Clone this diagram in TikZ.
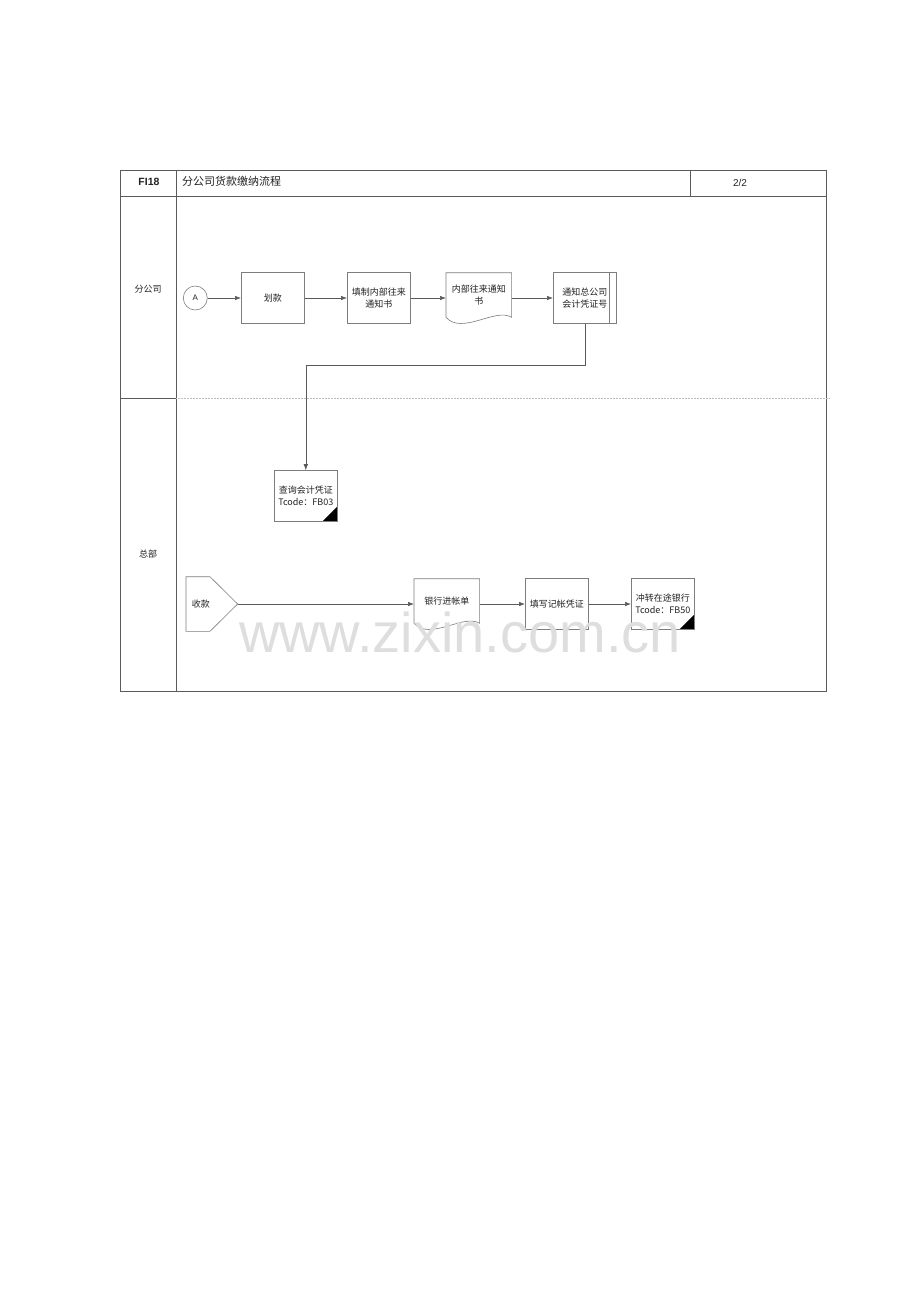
\documentclass[tikz,border=0pt]{standalone}
\usepackage{fontspec}
\setmainfont{Liberation Sans}
\newfontfamily\cjk{Noto Sans CJK SC}
\usepackage{tikz}
\usetikzlibrary{calc}
\usetikzlibrary{arrows.meta}
\definecolor{framegray}{RGB}{90,90,90}
\definecolor{boxgray}{RGB}{125,125,125}
\definecolor{textgray}{RGB}{35,35,35}
\definecolor{lanegray}{RGB}{190,190,190}
\definecolor{markgray}{RGB}{222,222,222}
\newcommand{\widthbox}{63pt}
\newcommand{\heightbox}{51pt}
\newcommand{\widthdoc}{65pt}
\newcommand{\heightdoc}{44pt}
\tikzset{
    common/.style={anchor=west, draw=boxgray, line width=0.6pt, rectangle, text=textgray,
        font=\cjk\fontsize{9}{12}\selectfont, align=center, inner sep=2pt},
    stepbox/.style={common, minimum width=\widthbox, minimum height=\heightbox},
    docbox/.style={stepbox, draw=none, minimum width=\widthdoc, minimum height=\heightdoc, yshift=3pt},
    predef/.style={stepbox,
        path picture={
            \draw[boxgray, line width=0.6pt]
                ([xshift=-7pt]path picture bounding box.north east) -- ([xshift=-7pt]path picture bounding box.south east);
        }
    },
    sapbox/.style={stepbox,
        path picture={
            \fill[black] (path picture bounding box.south east) -- ++(-15pt,0pt) -- ++(15pt,15pt) -- cycle;
        }
    },
    connector/.style={common, circle, minimum size=24pt, inner sep=0pt, font=\fontsize{8}{9}\selectfont},
    offpage/.style={common, draw=none, minimum width=51pt, minimum height=54pt, text width=40pt, align=left},
    flow/.style={->, draw=framegray, line width=0.6pt},
    lanelabel/.style={text=textgray, font=\cjk\fontsize{9}{11}\selectfont}
}

\begin{document}
\begin{tikzpicture}[x=1pt, y=1pt, >={Latex[length=6pt, width=4.5pt]}]
    \useasboundingbox[fill=white] (0,0) rectangle (920,-1301);

    % frame and lanes
    \draw[framegray, line width=0.7pt] (120,-170) rectangle (826,-691);
    \draw[framegray, line width=0.5pt] (120,-196) -- (826,-196);
    \draw[framegray, line width=0.5pt] (176,-170) -- (176,-691);
    \draw[framegray, line width=0.5pt] (690,-170) -- (690,-196);
    \draw[framegray, line width=0.5pt] (120,-398) -- (176,-398);
    \draw[lanegray, line width=0.5pt, densely dotted] (176,-398) -- (830,-398);

    \node[font=\bfseries\fontsize{10.5}{12}\selectfont, text=textgray] (code) at (149,-182) {FI18};
    \node[anchor=west, font=\cjk\fontsize{11}{13}\selectfont, text=textgray, inner sep=0pt] (title) at (182,-181) {分公司货款缴纳流程};
    \node[font=\fontsize{10}{12}\selectfont, text=textgray] (page) at (740,-183) {2/2};
    \node[lanelabel] (branch) at (148,-289) {分公司};
    \node[lanelabel] (hq) at (148,-554) {总部};

    \path
        (183,-298) node[connector] (A) {A}
        to ++(58,0) node[stepbox] (transfer) {划款}
        to ++(106,0) node[stepbox] (fillnote) {填制内部往来\\通知书}
        to ++(99,0) node[docbox] (note) {内部往来通知\\书}
        to ++(107,0) node[predef] (notify) {通知总公司\\会计凭证号};

    \path
        (274,-496) node[sapbox] (query) {查询会计凭证\\Tcode：FB03};

    \path
        (186,-604) node[offpage] (receive) {收款}
        to ++(228,0) node[docbox] (slip) {银行进帐单}
        to ++(111,0) node[stepbox] (voucher) {填写记帐凭证}
        to ++(106,0) node[sapbox] (reverse) {冲转在途银行\\Tcode：FB50};

    % document and off-page outlines
    \draw[boxgray, line width=0.6pt] (note.north west) -- (note.north east) -- (note.south east)
        .. controls +(-16,10) and +(16,-18) .. (note.south west) -- cycle;
    \draw[boxgray, line width=0.6pt] (slip.north west) -- (slip.north east) -- (slip.south east)
        .. controls +(-16,10) and +(16,-18) .. (slip.south west) -- cycle;
    \draw[boxgray, line width=0.6pt] (receive.north west) -- ++(24,0) -- (receive.east)
        -- ($(receive.south west)+(24,0)$) -- (receive.south west) -- cycle;

    \coordinate (turn) at (query.north |- 0,-365);

    \draw[flow] (A) -- (transfer);
    \draw[flow] (transfer) -- (fillnote);
    \draw[flow] (fillnote) -- (note.west |- fillnote);
    \draw[flow] (note.east |- notify) -- (notify);
    \draw[flow] (notify.south) |- (turn) -- (query.north);
    \draw[flow] (receive.east) -- (slip.west |- receive);
    \draw[flow] (slip.east |- voucher) -- (voucher);
    \draw[flow] (voucher) -- (reverse);

    \node[anchor=base, text=markgray, font=\fontsize{56}{60}\selectfont, inner sep=0pt] (mark) at (460,-652) {www.zixin.com.cn};
\end{tikzpicture}
\end{document}
